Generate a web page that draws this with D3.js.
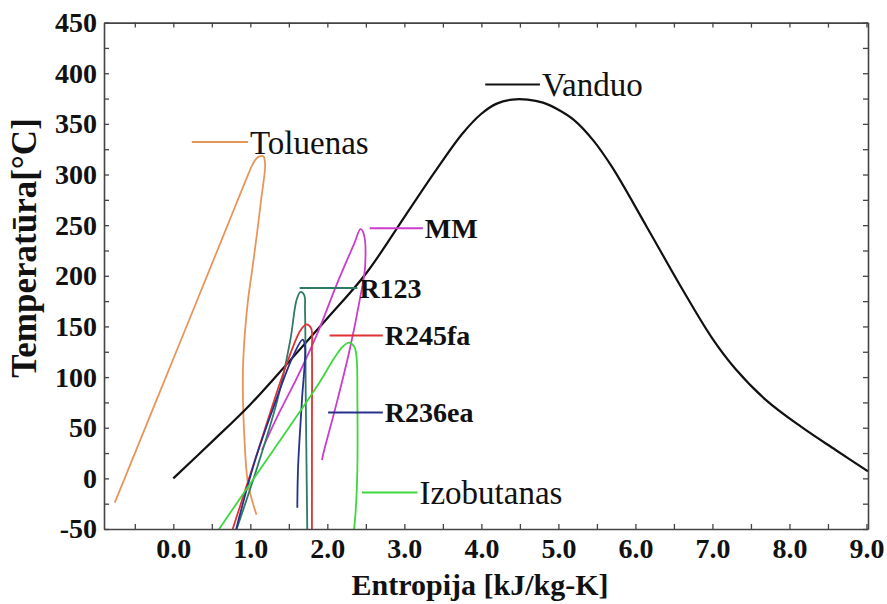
<!DOCTYPE html>
<html>
<head>
<meta charset="utf-8">
<script src="https://cdn.jsdelivr.net/npm/d3@7"></script>
<style>
  body { margin: 0; background: #fff; }
  text { font-family: "Liberation Serif", "Times New Roman", serif; }
</style>
</head>
<body>
<div id="chart"></div>
<script>
// ---- data (entropy kJ/kg-K, temperature C) ----
var waterS = [0, 0.5, 1.0, 1.5, 2.0, 2.5, 3.0, 3.4, 3.75, 4.0, 4.2, 4.4, 4.6, 4.8, 5.0, 5.2, 5.45, 5.7, 6.15, 6.6, 7.0, 7.3, 7.7, 8.15, 8.6, 9.02];
var waterT = [0, 36, 73, 115, 158, 202, 258, 303, 340, 360, 370, 374, 374, 371, 364, 354, 334, 307, 248, 188, 138, 108, 77, 51, 28, 7];

var tolueneS = [-0.76, 0.15, 0.7, 0.95, 1.03, 1.08, 1.12, 1.17, 1.19, 1.19, 1.14, 1.087, 1.03, 0.97, 0.93, 0.905, 0.905, 0.92, 0.97, 1.08];
var tolueneT = [-24, 146, 249, 296, 310, 316, 318, 318, 312, 305, 275, 242, 209, 176, 144, 110, 77, 45, -5, -36];

var mmS = [1.15, 1.35, 1.61, 1.87, 2.13, 2.35, 2.43, 2.47, 2.49, 2.42, 2.29, 2.13, 1.95, 1.93];
var mmT = [28, 61, 100, 143, 193, 232, 246, 242, 209, 176, 127, 77, 25, 18];

var r123S = [0.80, 1.09, 1.35, 1.52, 1.60, 1.65, 1.70, 1.71, 1.72, 1.74];
var r123T = [-55, 11, 77, 137, 176, 184, 181, 166, 77, -55];

var r245faS = [0.75, 1.09, 1.43, 1.65, 1.73, 1.79, 1.80, 1.80, 1.80];
var r245faT = [-55, 25, 104, 146, 152, 148, 127, 45, -55];

var r236eaS = [0.80, 1.05, 1.30, 1.55, 1.68, 1.71, 1.67, 1.62, 1.61];
var r236eaT = [-55, 15, 70, 120, 137, 130, 77, 11, -29];

var isobutaneS = [0.55, 1.0, 1.5, 1.9, 2.1, 2.2, 2.28, 2.35, 2.38, 2.39, 2.39, 2.37, 2.34];
var isobutaneT = [-55, -5, 50, 95, 120, 130, 134, 130, 119, 77, 11, -30, -55];

var xTicks = d3.range(-1, 19).map(function (i) { return i / 2; });
var yTicks = d3.range(-50, 451, 25);

// legend labels: name, line from / to (entropy), temperature level
var legendNames = ["Toluenas", "Vanduo", "MM", "R123", "R245fa", "R236ea", "Izobutanas"];
var legendFrom = [0.24, 4.05, 2.55, 1.64, 2.03, 2.01, 2.45];
var legendTo = [0.97, 4.76, 3.24, 2.39, 2.72, 2.72, 3.17];
var legendT = [332, 389, 247, 188, 141, 65, -14];

var attrs = {
  svgWidth: 887,
  svgHeight: 604,
  marginTop: 22.6,
  marginLeft: 104,
  marginRight: 19,
  marginBottom: 75
};

var calc = {};
calc.chartWidth = attrs.svgWidth - attrs.marginLeft - attrs.marginRight;
calc.chartHeight = attrs.svgHeight - attrs.marginTop - attrs.marginBottom;

var series = [
  { name: "Toluenas", s: tolueneS, t: tolueneT, color: "#e8955a", bold: false },
  { name: "Vanduo", s: waterS, t: waterT, color: "#111111", bold: false },
  { name: "MM", s: mmS, t: mmT, color: "#cc3ccc", bold: true },
  { name: "R123", s: r123S, t: r123T, color: "#2f7a66", bold: true },
  { name: "R245fa", s: r245faS, t: r245faT, color: "#e03232", bold: true },
  { name: "R236ea", s: r236eaS, t: r236eaT, color: "#27318c", bold: true },
  { name: "Izobutanas", s: isobutaneS, t: isobutaneT, color: "#3ed83e", bold: false }
];

var scales = {};
scales.x = d3.scaleLinear().domain([-0.9, 9.02]).range([0, calc.chartWidth]);
scales.y = d3.scaleLinear().domain([-50, 450]).range([calc.chartHeight, 0]);

var svg = d3.select("#chart").append("svg")
  .attr("width", attrs.svgWidth)
  .attr("height", attrs.svgHeight);

svg.append("rect").attr("width", attrs.svgWidth).attr("height", attrs.svgHeight).attr("fill", "#fff");

var chart = svg.append("g")
  .attr("transform", "translate(" + attrs.marginLeft + "," + attrs.marginTop + ")");

svg.append("defs").append("clipPath").attr("id", "plot-clip")
  .append("rect").attr("width", calc.chartWidth).attr("height", calc.chartHeight);

// curves
var line = d3.line()
  .x(function (d) { return scales.x(d[0]); })
  .y(function (d) { return scales.y(d[1]); })
  .curve(d3.curveCatmullRom.alpha(0.5));

var curves = chart.append("g").attr("clip-path", "url(#plot-clip)");
series.forEach(function (sr) {
  var pts = sr.s.map(function (v, i) { return [v, sr.t[i]]; });
  curves.append("path")
    .datum(pts)
    .attr("d", line)
    .attr("fill", "none")
    .attr("stroke", sr.color)
    .attr("stroke-width", sr.name === "Vanduo" ? 2.2 : 1.8)
    .attr("stroke-linejoin", "round");
});

// axes (ticks pointing inward, like the original frame)
var axes = {};
axes.bottom = d3.axisBottom(scales.x).tickValues(xTicks).tickSizeInner(-5).tickSizeOuter(0).tickPadding(9)
  .tickFormat(function (d) { return (d >= 0 && Math.abs(d - Math.round(d)) < 1e-9) ? d.toFixed(1) : ""; });
axes.left = d3.axisLeft(scales.y).tickValues(yTicks).tickSizeInner(-5).tickSizeOuter(0).tickPadding(7)
  .tickFormat(function (d) { return d % 50 === 0 ? d : ""; });
axes.top = d3.axisTop(scales.x).tickValues(xTicks).tickSizeInner(-5).tickSizeOuter(0).tickFormat("");
axes.right = d3.axisRight(scales.y).tickValues(yTicks).tickSizeInner(-5).tickSizeOuter(0).tickFormat("");

var frameColor = "#444";
function styleAxis(g) {
  g.attr("font-family", null);
  g.select(".domain").attr("stroke", frameColor).attr("stroke-width", 1.6);
  g.selectAll(".tick line").attr("stroke", frameColor).attr("stroke-width", 1.3);
  g.selectAll(".tick text")
    .attr("fill", "#111")
    .style("font-family", "'Liberation Serif', 'Times New Roman', serif")
    .style("font-size", "28px")
    .style("font-weight", "bold");
}

chart.append("g").attr("transform", "translate(0," + calc.chartHeight + ")").call(axes.bottom).call(styleAxis);
chart.append("g").call(axes.left).call(styleAxis);
chart.append("g").call(axes.top).call(styleAxis);
chart.append("g").attr("transform", "translate(" + calc.chartWidth + ",0)").call(axes.right).call(styleAxis);

// axis titles
chart.append("text")
  .attr("x", calc.chartWidth / 2 - 6)
  .attr("y", calc.chartHeight + 66)
  .attr("text-anchor", "middle")
  .style("font-size", "30px")
  .style("font-weight", "bold")
  .attr("fill", "#111")
  .text("Entropija [kJ/kg-K]");

svg.append("text")
  .attr("transform", "translate(36,248) rotate(-90)")
  .attr("text-anchor", "middle")
  .style("font-size", "35px")
  .style("font-weight", "bold")
  .attr("fill", "#111")
  .text("Temperatūra[°C]");

// inline legend labels
var labels = chart.append("g");
legendNames.forEach(function (name, i) {
  var sr = series.filter(function (d) { return d.name === name; })[0];
  var y = scales.y(legendT[i]);
  labels.append("line")
    .attr("x1", scales.x(legendFrom[i]))
    .attr("x2", scales.x(legendTo[i]))
    .attr("y1", y).attr("y2", y)
    .attr("stroke", sr.color)
    .attr("stroke-width", 2);
  labels.append("text")
    .attr("x", scales.x(legendTo[i]) + 2)
    .attr("y", y)
    .attr("dy", "0.35em")
    .attr("fill", "#111")
    .style("font-size", sr.bold ? "28px" : "33px")
    .style("font-weight", sr.bold ? "bold" : "normal")
    .text(name);
});
</script>
</body>
</html>
